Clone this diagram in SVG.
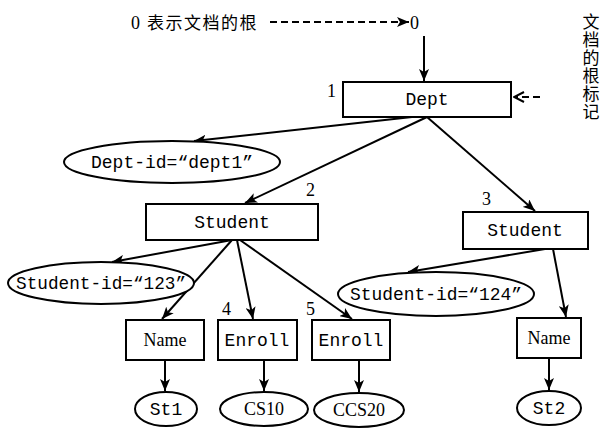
<svg xmlns="http://www.w3.org/2000/svg" width="604" height="428" viewBox="0 0 604 428">
<defs>
<style>
.box{fill:#fff;stroke:#000;stroke-width:2}
.ell{fill:#fff;stroke:#000;stroke-width:2}
.t{font-family:"Liberation Mono",monospace;font-size:18px;fill:#000;text-anchor:middle}
.s{font-family:"Liberation Serif",serif;font-size:18px;fill:#000;text-anchor:middle}
.n{font-family:"Liberation Serif",serif;font-size:18px;fill:#000}
.cjk{font-family:"Noto Sans CJK SC",sans-serif;font-size:17px;fill:#000}
.e{stroke:#000;stroke-width:2;fill:none}
.d{stroke:#000;stroke-width:2;fill:none;stroke-dasharray:7,4}
</style>
<marker id="ah" viewBox="0 0 12 10" refX="12" refY="5" markerWidth="12" markerHeight="10" markerUnits="userSpaceOnUse" orient="auto">
<path d="M0,0 L12,5 L0,10 L3,5 Z" fill="#000"/>
</marker>
<marker id="ao" viewBox="0 0 12 12" refX="11" refY="6" markerWidth="12" markerHeight="12" markerUnits="userSpaceOnUse" orient="auto">
<path d="M1,1 L11,6 L1,11" fill="none" stroke="#000" stroke-width="2"/>
</marker>
</defs>

<g id="connectors">
<line class="d" x1="270" y1="22" x2="409" y2="22" marker-end="url(#ah)"/>
<line class="e" x1="424" y1="36" x2="424" y2="81" marker-end="url(#ah)"/>
<line class="d" x1="540" y1="97" x2="514" y2="97" marker-end="url(#ao)"/>
<line class="e" x1="412" y1="117" x2="194" y2="141" marker-end="url(#ah)"/>
<line class="e" x1="427" y1="117" x2="245" y2="203" marker-end="url(#ah)"/>
<line class="e" x1="427" y1="117" x2="535" y2="211" marker-end="url(#ah)"/>
<line class="e" x1="232" y1="240" x2="112" y2="262" marker-end="url(#ah)"/>
<line class="e" x1="232" y1="240" x2="162" y2="319" marker-end="url(#ah)"/>
<line class="e" x1="237" y1="240" x2="253" y2="319" marker-end="url(#ah)"/>
<line class="e" x1="240" y1="240" x2="352" y2="319" marker-end="url(#ah)"/>
<line class="e" x1="545" y1="249" x2="408" y2="272" marker-end="url(#ah)"/>
<line class="e" x1="553" y1="249" x2="566" y2="317" marker-end="url(#ah)"/>
<line class="e" x1="165" y1="360" x2="165" y2="391" marker-end="url(#ah)"/>
<line class="e" x1="264" y1="360" x2="264" y2="391" marker-end="url(#ah)"/>
<line class="e" x1="359" y1="360" x2="359" y2="392" marker-end="url(#ah)"/>
<line class="e" x1="549" y1="358" x2="549" y2="390" marker-end="url(#ah)"/>
</g>

<g id="root-label">
<text class="n" x="131" y="29">0</text>
<text class="cjk" x="147" y="29" letter-spacing="1.5">表示文档的根</text>
<text class="n" x="410" y="29">0</text>
</g>

<g id="root-mark">
<text class="cjk" x="591" y="13" font-size="16" writing-mode="vertical-rl" letter-spacing="1">文档的根标记</text>
</g>

<g id="dept">
<rect class="box" x="343" y="82" width="168" height="35"/>
<text class="t" x="427" y="105">Dept</text>
<text class="n" x="327" y="97">1</text>
</g>

<g id="dept-id">
<ellipse class="ell" cx="172" cy="162" rx="108" ry="21"/>
<text class="t" x="172" y="168">Dept-id=“dept1”</text>
</g>

<g id="student1">
<rect class="box" x="146" y="204" width="172" height="36"/>
<text class="t" x="232" y="228">Student</text>
<text class="n" x="306" y="196">2</text>
</g>

<g id="student2">
<rect class="box" x="463" y="212" width="125" height="37"/>
<text class="t" x="525" y="236">Student</text>
<text class="n" x="482" y="205">3</text>
</g>

<g id="student-id-123">
<ellipse class="ell" cx="101" cy="283" rx="93" ry="21"/>
<text class="t" x="101" y="289" textLength="170" lengthAdjust="spacingAndGlyphs">Student-id=“123”</text>
</g>

<g id="student-id-124">
<ellipse class="ell" cx="436" cy="294" rx="98" ry="22"/>
<text class="t" x="436" y="300" textLength="172" lengthAdjust="spacingAndGlyphs">Student-id=“124”</text>
</g>

<g id="name1">
<rect class="box" x="126" y="320" width="78" height="40"/>
<text class="s" x="165" y="346">Name</text>
</g>

<g id="enroll1">
<rect class="box" x="218" y="320" width="79" height="40"/>
<text class="t" x="257" y="346">Enroll</text>
<text class="n" x="222" y="315">4</text>
</g>

<g id="enroll2">
<rect class="box" x="312" y="320" width="78" height="40"/>
<text class="t" x="351" y="346">Enroll</text>
<text class="n" x="306" y="315">5</text>
</g>

<g id="name2">
<rect class="box" x="517" y="318" width="64" height="40"/>
<text class="s" x="549" y="344">Name</text>
</g>

<g id="st1">
<ellipse class="ell" cx="166" cy="409" rx="31" ry="17"/>
<text class="t" x="166" y="415">St1</text>
</g>

<g id="cs10">
<ellipse class="ell" cx="264" cy="409" rx="44" ry="17"/>
<text class="s" x="264" y="415">CS10</text>
</g>

<g id="ccs20">
<ellipse class="ell" cx="359" cy="410" rx="45" ry="17"/>
<text class="s" x="359" y="416">CCS20</text>
</g>

<g id="st2">
<ellipse class="ell" cx="549" cy="408" rx="32" ry="17"/>
<text class="t" x="549" y="414">St2</text>
</g>
</svg>
